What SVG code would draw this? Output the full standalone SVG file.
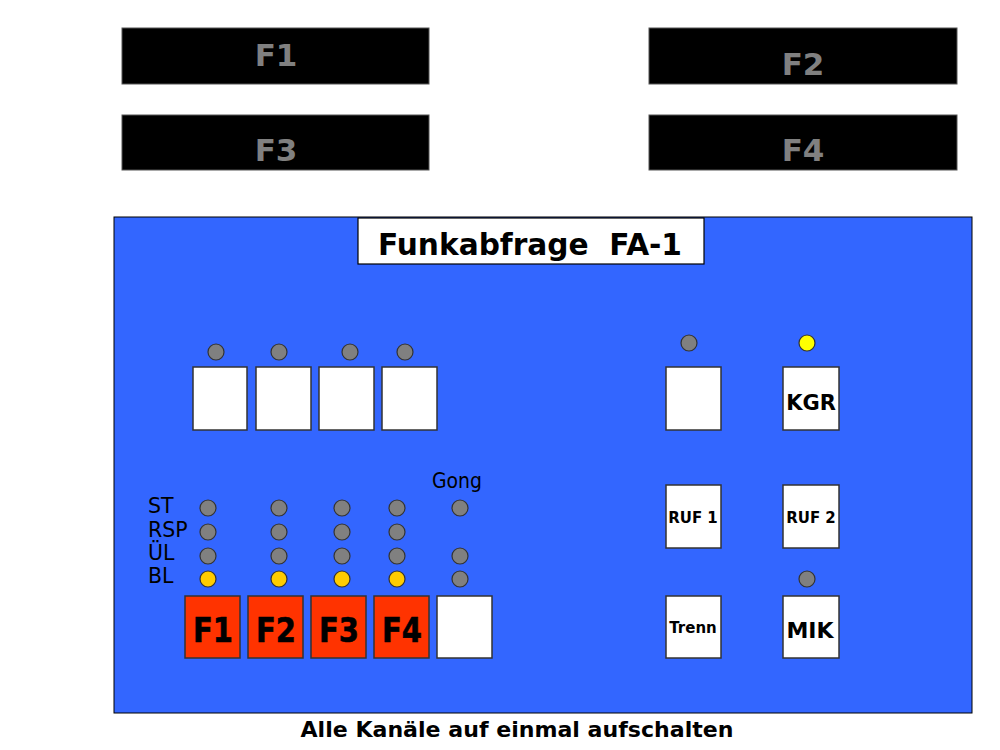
<svg xmlns="http://www.w3.org/2000/svg" width="1000" height="750" viewBox="0 0 1000 750">
<style>
.bar{fill:#000000;stroke:#555555;stroke-width:1}
.bartxt{font-family:"DejaVu Sans","Liberation Sans",sans-serif;font-weight:bold;font-size:31px;fill:#808080;text-anchor:middle}
.btn{fill:#FFFFFF;stroke:#333333;stroke-width:1.5}
.red{fill:#FF3300;stroke:#333333;stroke-width:1.5}
.led{fill:#808080;stroke:#333333;stroke-width:1.2}
.ledy{fill:#FFCC00;stroke:#333333;stroke-width:1.2}
.ledY{fill:#FFFF00;stroke:#333333;stroke-width:1.2}
.lbl{font-family:"DejaVu Sans","Liberation Sans",sans-serif;font-size:20.5px;fill:#000000}
.b{font-family:"DejaVu Sans","Liberation Sans",sans-serif;font-weight:bold;fill:#000000;text-anchor:middle}
.fk{font-size:33px;stroke:#000000;stroke-width:0.6}
</style>
<rect width="1000" height="750" fill="#FFFFFF"/>
<g id="display-F1"><rect class="bar" x="122" y="28" width="307" height="56"/><text class="bartxt" x="276" y="66">F1</text></g>
<g id="display-F2"><rect class="bar" x="649" y="28" width="308" height="56"/><text class="bartxt" x="803" y="75">F2</text></g>
<g id="display-F3"><rect class="bar" x="122" y="115" width="307" height="55"/><text class="bartxt" x="276" y="161">F3</text></g>
<g id="display-F4"><rect class="bar" x="649" y="115" width="308" height="55"/><text class="bartxt" x="803" y="161">F4</text></g>
<g id="panel">
<rect x="114" y="217" width="858" height="496" fill="#3366FF" stroke="#000000" stroke-width="1"/>
<rect x="358" y="218" width="346" height="46" fill="#FFFFFF" stroke="#000000" stroke-width="1.2"/>
<text class="b" x="530" y="255" font-size="31" xml:space="preserve" style="white-space:pre" textLength="304" lengthAdjust="spacingAndGlyphs">Funkabfrage  FA-1</text>
</g>
<g id="top-buttons">
<circle class="led" cx="216" cy="352" r="8"/><circle class="led" cx="279" cy="352" r="8"/><circle class="led" cx="350" cy="352" r="8"/><circle class="led" cx="405" cy="352" r="8"/>
<rect class="btn" x="193" y="367" width="54" height="63"/><rect class="btn" x="256" y="367" width="55" height="63"/><rect class="btn" x="319" y="367" width="55" height="63"/><rect class="btn" x="382" y="367" width="55" height="63"/>
</g>
<g id="status-labels">
<text class="lbl" x="148" y="513">ST</text><text class="lbl" x="148" y="537">RSP</text><text class="lbl" x="148" y="560">ÜL</text><text class="lbl" x="148" y="583">BL</text>
<text class="lbl" x="432" y="488" textLength="50" lengthAdjust="spacingAndGlyphs">Gong</text>
</g>
<g id="status-leds">
<circle class="led" cx="208" cy="508" r="8"/><circle class="led" cx="208" cy="532" r="8"/><circle class="led" cx="208" cy="556" r="8"/><circle class="ledy" cx="208" cy="579" r="8"/>
<circle class="led" cx="279" cy="508" r="8"/><circle class="led" cx="279" cy="532" r="8"/><circle class="led" cx="279" cy="556" r="8"/><circle class="ledy" cx="279" cy="579" r="8"/>
<circle class="led" cx="342" cy="508" r="8"/><circle class="led" cx="342" cy="532" r="8"/><circle class="led" cx="342" cy="556" r="8"/><circle class="ledy" cx="342" cy="579" r="8"/>
<circle class="led" cx="397" cy="508" r="8"/><circle class="led" cx="397" cy="532" r="8"/><circle class="led" cx="397" cy="556" r="8"/><circle class="ledy" cx="397" cy="579" r="8"/>
<circle class="led" cx="460" cy="508" r="8"/><circle class="led" cx="460" cy="556" r="8"/><circle class="led" cx="460" cy="579" r="8"/>
</g>
<g id="channel-buttons">
<rect class="red" x="185" y="596" width="55" height="62"/><text class="b fk" x="213" y="642" textLength="40" lengthAdjust="spacingAndGlyphs">F1</text>
<rect class="red" x="248" y="596" width="55" height="62"/><text class="b fk" x="276" y="642" textLength="40" lengthAdjust="spacingAndGlyphs">F2</text>
<rect class="red" x="311" y="596" width="55" height="62"/><text class="b fk" x="339" y="642" textLength="40" lengthAdjust="spacingAndGlyphs">F3</text>
<rect class="red" x="374" y="596" width="55" height="62"/><text class="b fk" x="402" y="642" textLength="40" lengthAdjust="spacingAndGlyphs">F4</text>
<rect class="btn" x="437" y="596" width="55" height="62"/>
</g>
<g id="right-buttons">
<circle class="led" cx="689" cy="343" r="8"/><circle class="ledY" cx="807" cy="343" r="8"/>
<rect class="btn" x="666" y="367" width="55" height="63"/>
<rect class="btn" x="783" y="367" width="56" height="63"/><text class="b" x="811" y="410" font-size="21">KGR</text>
<rect class="btn" x="666" y="485" width="55" height="63"/><text class="b" x="693" y="523" font-size="15">RUF 1</text>
<rect class="btn" x="783" y="485" width="56" height="63"/><text class="b" x="811" y="523" font-size="15">RUF 2</text>
<circle class="led" cx="807" cy="579" r="8"/>
<rect class="btn" x="666" y="596" width="55" height="62"/><text class="b" x="693" y="633" font-size="15">Trenn</text>
<rect class="btn" x="783" y="596" width="56" height="62"/><text class="b" x="810" y="638" font-size="22">MIK</text>
</g>
<g id="caption"><text class="b" x="517" y="737" font-size="22" textLength="433" lengthAdjust="spacingAndGlyphs">Alle Kanäle auf einmal aufschalten</text></g>
<g id="connectors"/>
</svg>
